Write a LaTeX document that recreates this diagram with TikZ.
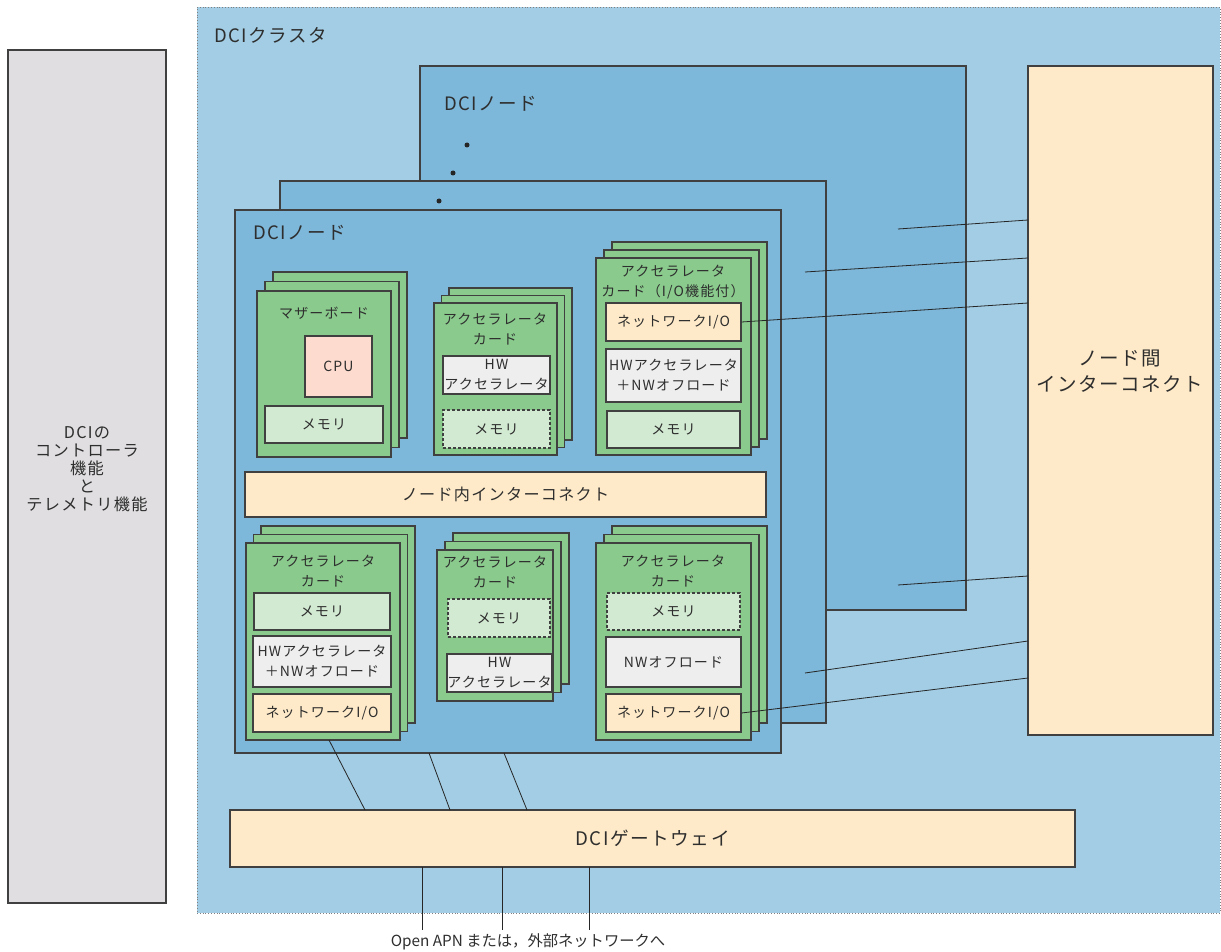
\documentclass[tikz,border=0pt]{standalone}
\usepackage{fontspec}
\setmainfont{Noto Sans CJK JP}[LetterSpace=8]
\newfontfamily\plainjp{Noto Sans CJK JP}
\usetikzlibrary{fit}
\definecolor{clusc}{HTML}{A2CDE4}
\definecolor{nodec}{HTML}{7DB7D9}
\definecolor{cardc}{HTML}{8ACB8D}
\definecolor{memc}{HTML}{D2E9D2}
\definecolor{cpuc}{HTML}{FDDBCE}
\definecolor{hwc}{HTML}{EEEEEE}
\definecolor{peachc}{HTML}{FEEAC8}
\definecolor{ctrlc}{HTML}{E0DEE0}
\definecolor{bordc}{HTML}{404040}
\definecolor{txtc}{HTML}{2E2E2E}
\newcommand\fs[2]{\fontsize{#1}{#2}\selectfont}
\tikzset{
  bx/.style={draw=bordc, line width=1.2pt, inner sep=0pt, align=center, text=txtc},
  clus/.style={draw=gray, dotted, line width=0.8pt, fill=clusc, inner sep=0pt},
  dcinode/.style={bx, fill=nodec},
  card/.style={bx, fill=cardc},
  mem/.style={bx, fill=memc, font=\fs{14}{20}},
  memdash/.style={mem, dash pattern=on 3pt off 2pt},
  cpu/.style={bx, fill=cpuc, font=\fs{14}{20}},
  hw/.style={bx, fill=hwc, font=\fs{14}{20}},
  nio/.style={bx, fill=peachc, font=\fs{14}{20}},
  big/.style={bx, fill=peachc},
  ctrl/.style={bx, fill=ctrlc},
  lbl/.style={inner sep=0pt, text=txtc, align=center},
  cardlbl/.style={lbl, font=\fs{14}{20}},
  wire/.style={draw=black!85, line width=0.8pt},
  dotc/.style={circle, fill=black!85, inner sep=0pt, minimum size=5pt}
}
% box node with its text as a separate node at its centre
\newcommand\rnode[7][]{%
  \node[#1, fit={(#4,#5)(#6,#7)}] (#2) {};
  \node[#1, draw=none, fill=none, inner sep=0pt] (#2t) at (#2.center) {#3};}
\newcommand\cardstack[7]{%
  \node[card, fit={({#2+2*(#6)},{#3+2*(#7)})({#4+2*(#6)},{#5+2*(#7)})}] (#1c) {};
  \node[card, fit={({#2+(#6)},{#3+(#7)})({#4+(#6)},{#5+(#7)})}] (#1b) {};
  \node[card, fit={(#2,#3)(#4,#5)}] (#1) {};}
\begin{document}
\begin{tikzpicture}[x=1pt,y=-1pt]
\useasboundingbox (0,0) rectangle (1221,952);
% cluster
\node[clus, fit={(197,7)(1220,913)}] (cluster) {};
\node[lbl, anchor=west, font=\fs{18.5}{22}] (cluslbl) at (214,35) {DCIクラスタ};
% controller
\node[ctrl, fit={(8,50)(166,903)}] (ctrlbox) {};
\node[lbl, font=\fs{16.2}{18}] (ctrllbl) at (87,469) {DCIの\\コントローラ\\機能\\と\\テレメトリ機能};
% internode interconnect
\node[big, fit={(1028,66)(1213,735)}] (ic) {};
\node[lbl, font=\fs{19.5}{26}] (iclbl) at (1120,371) {ノード間\\インターコネクト};
% DCI nodes
\node[dcinode, fit={(420,66)(966,610)}] (nback) {};
\node[lbl, anchor=west, font=\fs{18.5}{22}] (nbacklbl) at (444,104) {DCIノード};
\node[dotc] (d1) at (467,145) {};
\node[dotc] (d2) at (453,173) {};
\node[dcinode, fit={(280,181)(826,723)}] (nmid) {};
\node[dotc] (d3) at (439,201) {};
\node[dcinode, fit={(235,210)(781,753)}] (nfront) {};
\node[lbl, anchor=west, font=\fs{18.5}{22}] (nfrontlbl) at (253,233) {DCIノード};
% motherboard
\cardstack{mb}{257}{291}{391}{457}{8}{-9.5}
\node[cardlbl] (mblbl) at (324,313) {マザーボード};
\rnode[cpu]{cpu}{CPU}{305}{336}{372}{397}
\rnode[mem]{mbmem}{メモリ}{265}{406}{383}{443}
% accelerator card top middle
\cardstack{ac1}{434}{303}{557}{455}{7.5}{-7.5}
\node[cardlbl] (ac1lbl) at (495,329) {アクセラレータ\\カード};
\rnode[hw]{ac1hw}{HW\\アクセラレータ}{443}{356}{550}{394}
\rnode[memdash]{ac1mem}{メモリ}{443}{410}{550}{448}
% accelerator card with IO (top right)
\cardstack{ac2}{596}{258}{751}{455}{8}{-8}
\node[cardlbl] (ac2lbl) at (673,282) {アクセラレータ\\カード（I/O機能付）};
\rnode[nio]{ac2nio}{ネットワークI/O}{606}{303}{741}{341}
\rnode[hw]{ac2hw}{HWアクセラレータ\\＋NWオフロード}{606}{349}{741}{402}
\rnode[mem]{ac2mem}{メモリ}{607}{411}{740}{448}
% intra node interconnect
\rnode[big, font=\fs{16.1}{20}]{intra}{ノード内インターコネクト}{245}{472}{766}{517}
% bottom left card
\cardstack{ac3}{246}{543}{400}{740}{7.5}{-8.5}
\node[cardlbl] (ac3lbl) at (323,571) {アクセラレータ\\カード};
\rnode[mem]{ac3mem}{メモリ}{254}{593}{390}{630}
\rnode[hw]{ac3hw}{HWアクセラレータ\\＋NWオフロード}{253}{636}{391}{687}
\rnode[nio]{ac3nio}{ネットワークI/O}{253}{694}{391}{732}
% bottom middle card
\cardstack{ac4}{437}{550}{553}{701}{8}{-8.5}
\node[cardlbl] (ac4lbl) at (495,572) {アクセラレータ\\カード};
\rnode[memdash]{ac4mem}{メモリ}{448}{599}{550}{637}
\rnode[hw]{ac4hw}{HW\\アクセラレータ}{447}{654}{552}{692}
% bottom right card
\cardstack{ac5}{596}{543}{751}{740}{8}{-8.5}
\node[cardlbl] (ac5lbl) at (673,571) {アクセラレータ\\カード};
\rnode[memdash]{ac5mem}{メモリ}{607}{593}{740}{630}
\rnode[hw]{ac5hw}{NWオフロード}{606}{637}{741}{687}
\rnode[nio]{ac5nio}{ネットワークI/O}{606}{694}{741}{732}
% gateway
\rnode[big, font=\fs{18.7}{22}]{gw}{DCIゲートウェイ}{230}{810}{1075}{867}
% coordinates for wires
\coordinate (l1) at (898,229); \coordinate (ic1) at (1028,220);
\coordinate (l2) at (805,272); \coordinate (ic2) at (1028,258);
\coordinate (ic3) at (1028,303);
\coordinate (l4) at (898,585); \coordinate (ic4) at (1028,576);
\coordinate (l5) at (805,673); \coordinate (ic5) at (1028,641);
\coordinate (ic6) at (1028,678);
\draw[wire] (l1) -- (ic1);
\draw[wire] (l2) -- (ic2);
\draw[wire] (ac2nio.east) -- (ic3);
\draw[wire] (l4) -- (ic4);
\draw[wire] (l5) -- (ic5);
\draw[wire] (ac5nio.east) -- (ic6);
% gateway wires
\coordinate (g1a) at (329,740); \coordinate (g1b) at (365,810);
\coordinate (g2a) at (429,753); \coordinate (g2b) at (450,810);
\coordinate (g3a) at (504,753); \coordinate (g3b) at (527,810);
\draw[wire] (g1a) -- (g1b);
\draw[wire] (g2a) -- (g2b);
\draw[wire] (g3a) -- (g3b);
\coordinate (o1a) at (422,867); \coordinate (o1b) at (422,930);
\coordinate (o2a) at (502,867); \coordinate (o2b) at (502,930);
\coordinate (o3a) at (589,867); \coordinate (o3b) at (589,930);
\draw[wire] (o1a) -- (o1b);
\draw[wire] (o2a) -- (o2b);
\draw[wire] (o3a) -- (o3b);
\node[lbl, font={\plainjp\fs{15.3}{18}}] (ext) at (528,942) {Open APN または，外部ネットワークへ};
\end{tikzpicture}
\end{document}
